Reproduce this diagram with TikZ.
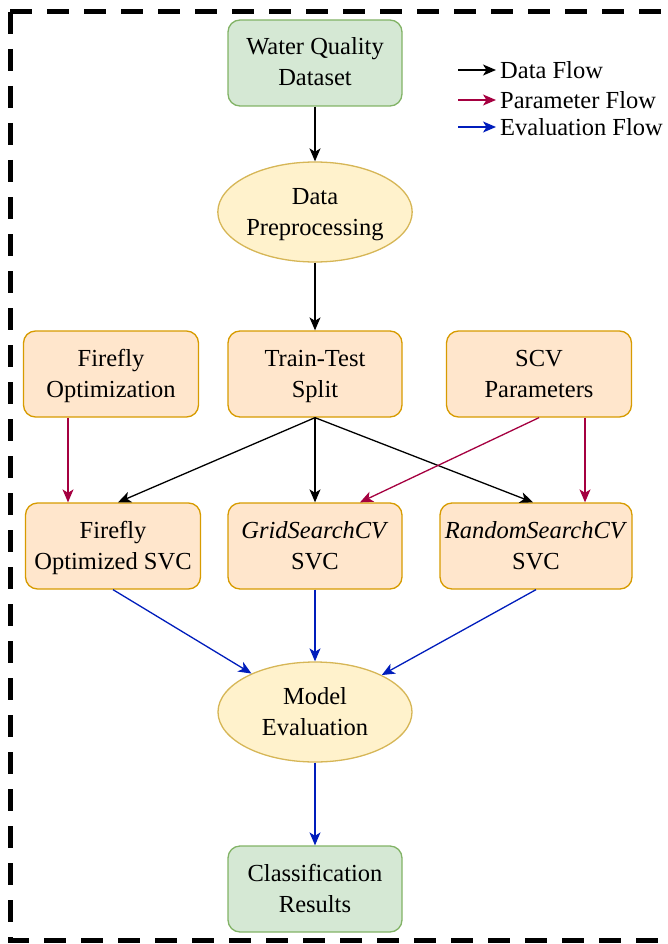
\documentclass[tikz,border=0pt]{standalone}
\usepackage{fontspec}
\setmainfont{Liberation Serif}
\usetikzlibrary{shapes.geometric,arrows.meta}
\definecolor{gfill}{HTML}{D5E8D4}\definecolor{gdraw}{HTML}{82B366}
\definecolor{yfill}{HTML}{FFF2CC}\definecolor{ydraw}{HTML}{D6B656}
\definecolor{ofill}{HTML}{FFE6CC}\definecolor{odraw}{HTML}{D79B00}
\definecolor{pflow}{HTML}{A50040}\definecolor{eflow}{HTML}{001DBC}
\newcommand{\mystrut}{\rule[-7.5pt]{0pt}{30pt}}
\tikzset{
  txt/.style={font=\fontsize{24.5}{31}\selectfont, align=center},
  gbox/.style={txt, draw=gdraw, fill=gfill, line width=1.3pt, rounded corners=12pt, minimum width=174pt, minimum height=86pt, inner sep=2pt},
  obox/.style={txt, draw=odraw, fill=ofill, line width=1.3pt, rounded corners=12pt, minimum width=174pt, minimum height=86pt, inner sep=2pt},
  yell/.style={txt, ellipse, draw=ydraw, fill=yfill, line width=1.3pt, minimum width=194pt, minimum height=100pt, inner sep=0pt},
  arr/.style={line width=1.3pt, -{Stealth[length=13pt,width=11pt,inset=3.5pt]}},
  dflow/.style={arr, black},
  parflow/.style={arr, pflow},
  evflow/.style={arr, eflow},
  legtxt/.style={font=\fontsize{24.5}{28}\selectfont, anchor=west, inner sep=0pt}
}
\begin{document}
\begin{tikzpicture}[x=1pt,y=-1pt]
\useasboundingbox (0,0) rectangle (667,944);
\draw[line width=5pt, dash pattern=on 22pt off 15pt] (10,12) -- (10,940) -- (690,940);
\draw[line width=5pt, dash pattern=on 22pt off 15pt] (10,12) -- (690,12);

\node[gbox] (wq) at (315,63) {\mystrut Water Quality\\Dataset\mystrut};
\node[yell] (dp) at (315,212) {\mystrut Data\\Preprocessing\mystrut};
\node[obox, minimum width=175pt] (fo) at (111,374) {\mystrut Firefly\\Optimization\mystrut};
\node[obox] (tt) at (315,374) {\mystrut Train-Test\\Split\mystrut};
\node[obox, minimum width=185pt] (scv) at (539,374) {\mystrut SCV\\Parameters\mystrut};
\node[obox, minimum width=175pt] (fs) at (113,546) {\mystrut Firefly\\Optimized SVC\mystrut};
\node[obox] (gs) at (315,546) {\mystrut\textit{GridSearchCV}\\SVC\mystrut};
\node[obox, minimum width=192pt] (rs) at (536,546) {\mystrut\textit{RandomSearchCV}\\SVC\mystrut};
\node[yell] (me) at (315,712) {\mystrut Model\\Evaluation\mystrut};
\node[gbox] (cr) at (315,889) {\mystrut Classification\\Results\mystrut};

\draw[dflow] (wq) -- (dp);
\draw[dflow] (dp) -- (tt);
\draw[dflow] (tt.south) -- ([xshift=5pt]fs.north);
\draw[dflow] (tt.south) -- (gs.north);
\draw[dflow] (tt.south) -- ([xshift=-3pt]rs.north);
\draw[parflow] ([xshift=-43pt]fo.south) -- ([xshift=-43pt]fo.south |- fs.north);
\draw[parflow] (scv.south) -- ([xshift=45pt]gs.north);
\draw[parflow] ([xshift=46pt]scv.south) -- ([xshift=46pt]scv.south |- rs.north);
\draw[evflow] (fs.south) -- (me);
\draw[evflow] (gs) -- (me);
\draw[evflow] (rs.south) -- (me);
\draw[evflow] (me) -- (cr);

\coordinate (l1a) at (458,70); \coordinate (l1b) at (496,70);
\coordinate (l2a) at (458,100); \coordinate (l2b) at (496,100);
\coordinate (l3a) at (458,127); \coordinate (l3b) at (496,127);
\draw[dflow] (l1a) -- (l1b);
\draw[parflow] (l2a) -- (l2b);
\draw[evflow] (l3a) -- (l3b);
\node[legtxt] (lt1) at (500,70) {Data Flow};
\node[legtxt] (lt2) at (500,100) {Parameter Flow};
\node[legtxt] (lt3) at (500,127) {Evaluation Flow};
\end{tikzpicture}
\end{document}
